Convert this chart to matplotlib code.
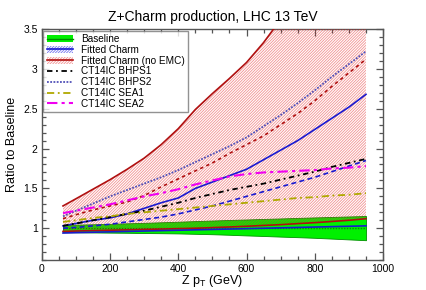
import numpy as np
import matplotlib.pyplot as plt
from matplotlib.patches import Patch
from matplotlib.lines import Line2D
from matplotlib.ticker import MultipleLocator, FuncFormatter

plt.rcParams['font.family'] = ['Liberation Sans', 'DejaVu Sans']
plt.rcParams['hatch.linewidth'] = 0.6

# Z pT points (GeV)
pt = [62, 100, 150, 200, 250, 300, 350, 400, 450, 500,
      550, 600, 650, 700, 750, 800, 850, 900, 950]

# Baseline band (ratio to itself)
base_lo = [0.95, 0.949, 0.947, 0.945, 0.943, 0.94, 0.938, 0.935, 0.93, 0.925,
           0.918, 0.91, 0.903, 0.895, 0.888, 0.88, 0.87, 0.86, 0.85]
base_hi = [1.04, 1.045, 1.05, 1.055, 1.062, 1.068, 1.075, 1.082, 1.09, 1.097,
           1.104, 1.11, 1.117, 1.123, 1.13, 1.136, 1.142, 1.148, 1.154]

# Fitted Charm
fc_lo = [0.94, 0.945, 0.95, 0.955, 0.96, 0.965, 0.97, 0.975, 0.98, 0.985,
         0.99, 0.995, 1.0, 1.005, 1.01, 1.015, 1.02, 1.025, 1.03]
fc_mid = [1.00, 1.01, 1.03, 1.05, 1.08, 1.11, 1.14, 1.18, 1.23, 1.28,
          1.34, 1.40, 1.46, 1.52, 1.58, 1.64, 1.71, 1.78, 1.85]
fc_hi = [1.03, 1.06, 1.10, 1.13, 1.18, 1.25, 1.32, 1.38, 1.50, 1.58,
         1.66, 1.74, 1.86, 1.98, 2.10, 2.24, 2.38, 2.52, 2.68]

# Fitted Charm (no EMC)
ne_lo = [0.96, 0.965, 0.97, 0.975, 0.98, 0.985, 0.99, 0.995, 1.0, 1.008,
         1.016, 1.025, 1.035, 1.045, 1.058, 1.07, 1.085, 1.10, 1.12]
ne_mid = [1.12, 1.17, 1.23, 1.28, 1.33, 1.41, 1.52, 1.62, 1.72, 1.82,
          1.94, 2.05, 2.16, 2.30, 2.44, 2.60, 2.78, 2.95, 3.12]
ne_hi = [1.28, 1.37, 1.49, 1.61, 1.74, 1.88, 2.05, 2.25, 2.49, 2.69,
         2.88, 3.08, 3.33, 3.62, 3.90, 4.20, 4.50, 4.80, 5.10]

# CT14IC models
bhps1 = [1.03, 1.06, 1.10, 1.14, 1.18, 1.22, 1.27, 1.32, 1.38, 1.43,
         1.48, 1.52, 1.56, 1.61, 1.66, 1.71, 1.77, 1.82, 1.87]
bhps2 = [1.15, 1.22, 1.31, 1.40, 1.48, 1.56, 1.64, 1.73, 1.83, 1.93,
         2.03, 2.14, 2.28, 2.42, 2.57, 2.73, 2.90, 3.06, 3.22]
sea1 = [1.08, 1.10, 1.13, 1.15, 1.18, 1.20, 1.22, 1.24, 1.26, 1.28,
        1.30, 1.32, 1.34, 1.36, 1.38, 1.39, 1.41, 1.42, 1.44]
sea2 = [1.19, 1.22, 1.26, 1.30, 1.35, 1.40, 1.44, 1.49, 1.55, 1.60,
        1.65, 1.68, 1.70, 1.71, 1.72, 1.73, 1.75, 1.76, 1.78]

fig = plt.figure(figsize=(4.27, 2.9), dpi=100)
ax = fig.add_axes([0.098, 0.103, 0.799, 0.797])

green = '#00f000'
dgreen = '#009000'
blue = '#1a1ad0'
red = '#b01010'
hatch_red = (0.9, 0.15, 0.15, 0.5)
hatch = '/' * 12

# Fitted Charm band (hatched), mostly covered by the no-EMC band
ax.fill_between(pt, fc_lo, fc_hi, facecolor='none', edgecolor=(0.1, 0.1, 0.9, 0.5),
                hatch=hatch, linewidth=0, zorder=1)
ax.fill_between(pt, ne_lo, ne_hi, facecolor='white', linewidth=0, zorder=1.5)
# Baseline
ax.fill_between(pt, base_lo, base_hi, facecolor=green, edgecolor=dgreen,
                linewidth=0.6, zorder=2)
ax.plot(pt, [1.0] * len(pt), color=dgreen, ls=(0, (1, 1)), lw=1.0, zorder=2.1)
# No-EMC hatch on top
ax.fill_between(pt, ne_lo, ne_hi, facecolor='none', edgecolor=hatch_red,
                hatch=hatch, linewidth=0, zorder=3)

# band edges and centrals
ax.plot(pt, ne_hi, color=red, lw=1.2, zorder=4)
ax.plot(pt, ne_lo, color=red, lw=1.2, zorder=4)
ax.plot(pt, ne_mid, color=red, lw=1.2, ls=(0, (2, 2)), zorder=4)
ax.plot(pt, fc_hi, color=blue, lw=1.2, zorder=4)
ax.plot(pt, fc_lo, color=blue, lw=1.2, zorder=4)
ax.plot(pt, fc_mid, color=blue, lw=1.2, ls=(0, (3, 2)), zorder=4)

ax.plot(pt, bhps1, color='black', lw=1.3, ls=(0, (3, 2, 1, 2)), zorder=5)
ax.plot(pt, bhps2, color='#5050b8', lw=1.3, ls=(0, (1, 0.8)), zorder=5)
ax.plot(pt, sea1, color='#b0a800', lw=1.3, ls=(0, (4, 2, 1, 2)), zorder=5)
ax.plot(pt, sea2, color='#f000f0', lw=1.5, ls=(0, (5, 2, 1.5, 2)), zorder=5)

ax.set_xlim(0, 1000)
ax.set_ylim(0.6, 3.5)
ax.xaxis.set_major_locator(MultipleLocator(200))
ax.xaxis.set_minor_locator(MultipleLocator(50))
ax.yaxis.set_major_locator(MultipleLocator(0.5))
ax.yaxis.set_minor_locator(MultipleLocator(0.1))
ax.yaxis.set_major_formatter(FuncFormatter(lambda v, p: '%g' % v))
ax.tick_params(which='both', direction='in', top=True, right=True, labelsize=7.5,
               color='#555555', width=0.9, pad=3)
ax.tick_params(which='major', length=5)
ax.tick_params(which='minor', length=3)
for s in ax.spines.values():
    s.set_color('#555555')
    s.set_linewidth(1.0)

ax.set_title('Z+Charm production, LHC 13 TeV', fontsize=10, pad=6)
ax.set_xlabel('Z p$_\\mathregular{T}$ (GeV)', fontsize=9, labelpad=-1)
ax.set_ylabel('Ratio to Baseline', fontsize=9, labelpad=4)

handles = [
    (Patch(facecolor=green, edgecolor='none'), Line2D([], [], color=dgreen, lw=1.0)),
    (Patch(facecolor='none', edgecolor=(0.1, 0.1, 0.9, 0.6), hatch=hatch, linewidth=0),
     Line2D([], [], color=blue, lw=1.2)),
    (Patch(facecolor='none', edgecolor=hatch_red, hatch=hatch, linewidth=0),
     Line2D([], [], color=red, lw=1.2)),
    Line2D([], [], color='black', lw=1.3, ls=(0, (3, 2, 1, 2))),
    Line2D([], [], color='#5050b8', lw=1.3, ls=(0, (1, 0.8))),
    Line2D([], [], color='#b0a800', lw=1.3, ls=(0, (4, 2, 1, 2))),
    Line2D([], [], color='#f000f0', lw=1.5, ls=(0, (5, 2, 1.5, 2))),
]
labels = ['Baseline', 'Fitted Charm', 'Fitted Charm (no EMC)', 'CT14IC BHPS1',
          'CT14IC BHPS2', 'CT14IC SEA1', 'CT14IC SEA2']
leg = ax.legend(handles, labels, loc='upper left', fontsize=7.2, frameon=True,
                fancybox=False, borderaxespad=0.15, handlelength=2.6,
                labelspacing=0.08, borderpad=0.35, handletextpad=0.8)
leg.get_frame().set_edgecolor('#777777')
leg.get_frame().set_linewidth(1.0)
leg.set_zorder(10)

fig.savefig('out.png', dpi=100)
